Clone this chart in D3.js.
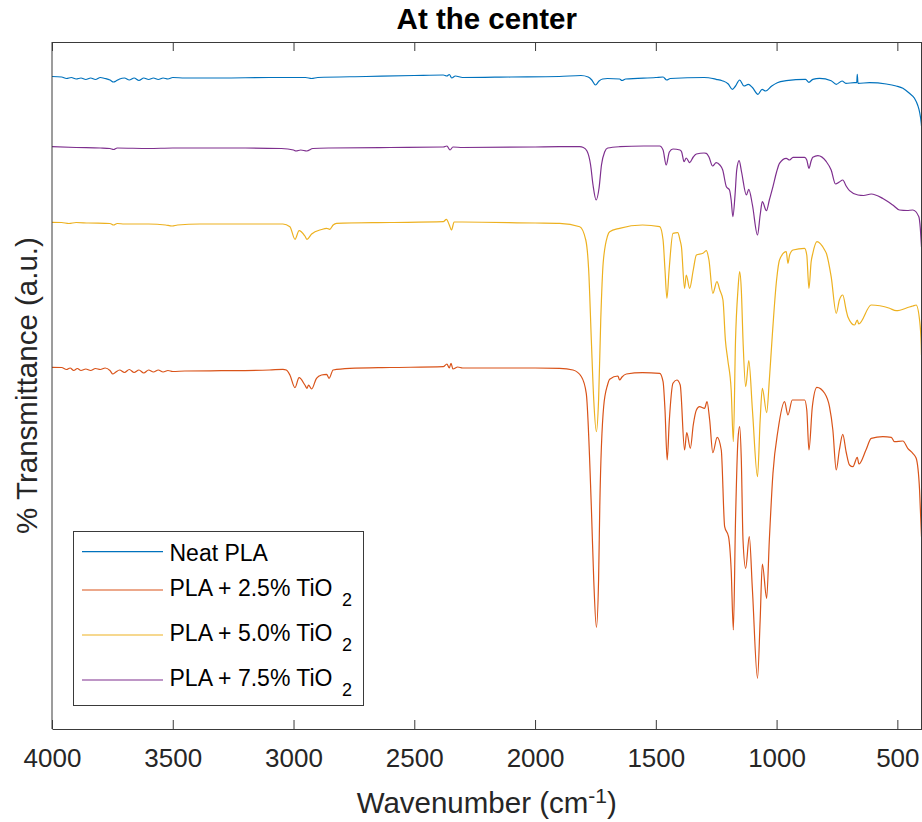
<!DOCTYPE html>
<html>
<head>
<meta charset="utf-8">
<script src="https://cdn.jsdelivr.net/npm/d3@7"></script>
<style>
  html, body { margin: 0; padding: 0; background: #ffffff; }
  svg { display: block; font-family: "Liberation Sans", Arial, Helvetica, sans-serif; }
</style>
</head>
<body>
<svg id="chart" width="922" height="822"></svg>
<script>
// FTIR spectra measured at the center of the specimens (stacked, arbitrary units)
const wavenumberTicks = [4000, 3500, 3000, 2500, 2000, 1500, 1000, 500];
const seriesNames = ["Neat PLA", "PLA + 2.5% TiO", "PLA + 5.0% TiO", "PLA + 7.5% TiO"];
const seriesSubscripts = ["", "2", "2", "2"];
const seriesColors = ["#0072BD", "#D95319", "#EDB120", "#7E2F8E"];

// [wavenumber (cm^-1), transmittance (a.u., offset per sample)]
const neatPLA = [
  [4000,652.5],[3960,652],[3940,650.5],[3920,651.5],[3900,650],[3880,651],[3860,649.5],[3840,651],
  [3820,649.5],[3800,651.5],[3780,650.5],[3760,649],[3745,647],[3735,648],[3720,650],[3700,651],
  [3680,649],[3660,651],[3640,648.5],[3620,651],[3600,649.5],[3580,651],[3560,649.5],[3540,651],
  [3520,650],[3500,651.5],[3450,651],[3300,651],[3100,651.5],[2950,651.5],[2925,650.5],[2900,651.5],
  [2700,652.5],[2500,653.5],[2380,654],[2365,653],[2355,654.5],[2345,651],[2330,653],[2300,651.5],
  [2100,652],[1900,652.5],[1810,653.5],[1780,652],[1765,649],[1750,644],[1735,648],[1720,650],
  [1700,650.5],[1650,650],[1640,648.5],[1625,650],[1500,651.5],[1470,652],[1455,649],[1440,650.5],
  [1300,651.5],[1250,649.7],[1225,648.3],[1200,645],[1183,639.7],[1170,643],[1153,649],[1135,643],
  [1117,644.7],[1100,641.5],[1077,634.7],[1060,639.7],[1045,638],[1020,643],[997,646.3],[960,648.3],
  [880,649.7],[866,646.7],[850,649.7],[822,650.7],[774,648.3],[753,644.7],[729,648],[713,645.7],
  [678,646.3],[668,646.3],[666,654.7],[663,645.7],[615,646.3],[546,645],[505,643],[477,640.7],
  [450,635.7],[429,630.7],[416,624],[408,617],[401,605.7],[400,603]
];

const pla25 = [
  [4000,361.7],[3960,361.5],[3940,359.5],[3925,361],[3910,358.5],[3895,360.5],[3880,358.5],[3860,360],
  [3840,358.5],[3820,360.5],[3800,359.5],[3780,361],[3760,358.5],[3748,355],[3738,356.5],[3720,359],
  [3700,356.5],[3680,359.5],[3660,356.5],[3640,359],[3620,356],[3600,359],[3580,357],[3560,359],
  [3540,357],[3520,358.5],[3500,357.5],[3450,358],[3300,358.3],[3100,359],[3044,359.7],[3030,359],
  [3015,354],[2994,341.3],[2977,351.3],[2953,344],[2944,340.7],[2938,344],[2925,340],[2905,350.7],
  [2884,354],[2863,354.7],[2853,350.7],[2836,359],[2767,360.7],[2600,361.5],[2380,362.3],[2365,365],
  [2355,361],[2348,365.7],[2340,360],[2320,362],[2300,361],[2000,361],[1898,360.7],[1843,359],
  [1808,352.3],[1788,335.7],[1767,222.3],[1757,149],[1746,101.7],[1737,149],[1732,222.3],[1716,322.3],
  [1700,344],[1691,349.7],[1657,353],[1650,349],[1640,352],[1622,355],[1555,356.3],[1484,355.7],
  [1470,347.3],[1462,319],[1453,269],[1444,309],[1429,345.7],[1413,349],[1399,344],[1381,279],
  [1372,296.3],[1357,280.7],[1345,304],[1332,319],[1319,322.3],[1298,320.7],[1288,327.3],[1277,309],
  [1264,276.3],[1246,291.7],[1229,279],[1215,202.3],[1199,192.3],[1188,159],[1179,99],[1170,209],
  [1160,289],[1153,302.3],[1146,269],[1139,189],[1128,160.7],[1113,192.3],[1100,139],[1079,50.7],
  [1068,109],[1059,165],[1041,130.7],[1030,189],[1015,255.7],[994,299],[967,327.3],[953,314],
  [935,329],[884,329],[875,319],[866,279],[852,322.3],[833,341.7],[801,335.7],[781,322.3],
  [767,299],[753,259],[740,279],[726,294.7],[712,277],[698,264],[684,262.3],[666,271.7],
  [659,265],[630,279],[608,290.7],[560,292.3],[525,291.7],[512,287.3],[477,288],[457,280.7],
  [436,275.7],[422,270.7],[408,239],[400,192.3]
];

const pla50 = [
  [4000,506.7],[3960,506.5],[3930,505.5],[3900,506.5],[3850,506],[3760,505.5],[3745,504],[3730,505.5],
  [3700,505],[3600,505],[3530,504],[3503,503],[3480,504],[3388,505],[3200,505],[3044,505],
  [3015,502.3],[2994,489.7],[2977,498.3],[2953,493],[2944,489.7],[2925,495],[2884,499.5],[2863,500.7],
  [2850,499.7],[2836,504],[2822,505.7],[2600,506.5],[2380,507.3],[2367,509.7],[2355,504],[2346,499],
  [2335,507],[2300,507],[2000,506],[1898,505.7],[1815,502.3],[1790,489],[1778,459],[1767,389],
  [1757,329],[1746,297.3],[1737,329],[1728,409],[1718,466],[1700,493],[1691,497.3],[1650,500.7],
  [1555,504],[1484,502.3],[1470,489],[1462,459],[1454,430.7],[1445,459],[1429,495.7],[1409,496.3],
  [1400,489],[1394,482.3],[1381,440.7],[1374,454],[1360,440.7],[1345,459],[1332,474],[1305,475.7],
  [1291,478.3],[1280,469],[1264,435.7],[1247,447.3],[1235,439],[1222,429],[1212,389],[1202,369],
  [1188,339],[1179,287.3],[1170,389],[1160,439],[1153,457.3],[1146,439],[1139,389],[1128,342.3],
  [1115,368.3],[1100,319],[1079,252.3],[1068,309],[1059,340.7],[1041,316.3],[1030,349],[1019,389],
  [1000,449],[988,469],[960,477.3],[953,465.7],[946,474],[932,479],[884,480.7],[875,474],
  [866,440.7],[857,467],[850,475.7],[833,487.3],[801,479],[794,475.7],[774,452.3],[753,415.7],
  [740,429],[726,434],[712,419],[705,412.3],[677,404],[666,409],[660,405],[608,424],
  [532,420.7],[505,418.3],[450,422],[436,423],[422,424],[408,409],[401,384],[400,374]
];

const pla75 = [
  [4000,582.3],[3900,581.5],[3800,581],[3760,580.5],[3745,579.5],[3730,581],[3600,580.5],[3500,581],
  [3200,581],[3050,580.5],[3000,579],[2990,578],[2970,579],[2945,578],[2920,580.5],[2850,581],
  [2600,581.5],[2380,582],[2365,583],[2352,579],[2340,582],[2300,581.5],[2000,582],[1900,582.3],
  [1815,582.3],[1800,581.5],[1785,578],[1770,564],[1760,544],[1747,529],[1735,541],[1725,564],
  [1712,577],[1699,581],[1650,582.3],[1550,583],[1484,583],[1470,579],[1457,564],[1444,577],
  [1429,580],[1400,579],[1393,577],[1383,567.3],[1374,571],[1360,566.3],[1345,572],[1332,575],
  [1300,576],[1291,575.7],[1280,572],[1265,563],[1250,566.3],[1235,564],[1223,559],[1208,542.3],
  [1195,539],[1188,529],[1181,512.3],[1172,534],[1165,559],[1155,568.3],[1145,557],[1125,534],
  [1115,539.7],[1100,524],[1079,494],[1068,514],[1059,527.3],[1042,518.3],[1030,529],[1015,542.3],
  [1000,557],[988,565.7],[960,570.7],[946,569],[932,571.7],[884,571.7],[875,569],[866,560.7],
  [857,568],[850,571.7],[829,573.3],[794,567.3],[774,559],[756,545],[740,547],[726,549],
  [712,543],[698,538.3],[663,534],[640,533.5],[608,535],[560,530.5],[519,524],[491,519],
  [460,518.5],[436,519],[411,512.3],[405,501],[401,486],[400,482]
];

const allSeries = [neatPLA, pla25, pla50, pla75];

const svg = d3.select("#chart");
const plotLeft = 52, plotRight = 921.5, plotTop = 42, plotBottom = 729;

const x = d3.scaleLinear().domain([4000, 400]).range([plotLeft, plotRight]);
const y = d3.scaleLinear().domain([0, 687]).range([plotBottom, plotTop]);

// Spectra
const spectrumLine = d3.line()
  .x(d => x(d[0]))
  .y(d => y(d[1]))
  .curve(d3.curveMonotoneX);

svg.append("g").selectAll("path")
  .data(allSeries)
  .join("path")
  .attr("d", spectrumLine)
  .attr("fill", "none")
  .attr("stroke", (d, i) => seriesColors[i])
  .attr("stroke-width", 1.2)
  .attr("stroke-linejoin", "round");

// Box and axes
const axisColor = "#3a3a3a";
const bottomAxis = svg.append("g")
  .attr("transform", `translate(0,${plotBottom})`)
  .call(d3.axisBottom(x).tickValues(wavenumberTicks).tickFormat(d3.format("d"))
    .tickSizeInner(-9).tickSizeOuter(0));
bottomAxis.select(".domain").attr("stroke", axisColor);
bottomAxis.selectAll(".tick line").attr("stroke", axisColor);
bottomAxis.selectAll(".tick text")
  .attr("y", 38).attr("dy", 0)
  .attr("font-size", 26)
  .attr("fill", "#262626")
  .attr("font-family", "'Liberation Sans', Arial, sans-serif");

const topAxis = svg.append("g")
  .attr("transform", `translate(0,${plotTop})`)
  .call(d3.axisTop(x).tickValues(wavenumberTicks).tickFormat("")
    .tickSizeInner(-9).tickSizeOuter(0));
topAxis.select(".domain").attr("stroke", axisColor);
topAxis.selectAll(".tick line").attr("stroke", axisColor);

svg.append("line").attr("x1", plotLeft).attr("x2", plotLeft).attr("y1", plotTop).attr("y2", plotBottom)
  .attr("stroke", axisColor);
svg.append("line").attr("x1", plotRight).attr("x2", plotRight).attr("y1", plotTop).attr("y2", plotBottom)
  .attr("stroke", axisColor);

// Title and axis labels
svg.append("text")
  .attr("x", (plotLeft + plotRight) / 2).attr("y", 29)
  .attr("text-anchor", "middle")
  .attr("font-size", 29.5).attr("font-weight", "bold").attr("fill", "#000")
  .text("At the center");

const xLabel = svg.append("text")
  .attr("x", (plotLeft + plotRight) / 2).attr("y", 813)
  .attr("text-anchor", "middle")
  .attr("font-size", 29.5).attr("fill", "#262626");
xLabel.append("tspan").text("Wavenumber (cm");
xLabel.append("tspan").attr("font-size", 21).attr("dy", -10).text("-1");
xLabel.append("tspan").attr("dy", 10).text(")");

svg.append("text")
  .attr("transform", `translate(37,${(plotTop + plotBottom) / 2}) rotate(-90)`)
  .attr("text-anchor", "middle")
  .attr("font-size", 29.5).attr("fill", "#262626")
  .text("% Transmittance (a.u.)");

// Legend
const legend = svg.append("g");
legend.append("rect")
  .attr("x", 73.5).attr("y", 531.5).attr("width", 290).attr("height", 174)
  .attr("fill", "#fff").attr("stroke", axisColor).attr("stroke-width", 1);

const legendLineY = [551.7, 590, 635, 680];
const legendRows = legend.selectAll("g.row")
  .data(seriesNames)
  .join("g").attr("class", "row");

legendRows.append("line")
  .attr("x1", 82).attr("x2", 163)
  .attr("y1", (d, i) => legendLineY[i]).attr("y2", (d, i) => legendLineY[i])
  .attr("stroke", (d, i) => seriesColors[i]).attr("stroke-width", 1.2);

legendRows.each(function(d, i) {
  const base = legendLineY[i] + (seriesSubscripts[i] ? 5.5 : 9.5);
  const t = d3.select(this).append("text")
    .attr("x", 169.5).attr("y", base)
    .attr("font-size", 23).attr("fill", "#000");
  t.append("tspan").text(d);
  if (seriesSubscripts[i]) {
    t.append("tspan").attr("x", 342).attr("dy", 10.5).attr("font-size", 18).text(seriesSubscripts[i]);
  }
});
</script>
</body>
</html>
